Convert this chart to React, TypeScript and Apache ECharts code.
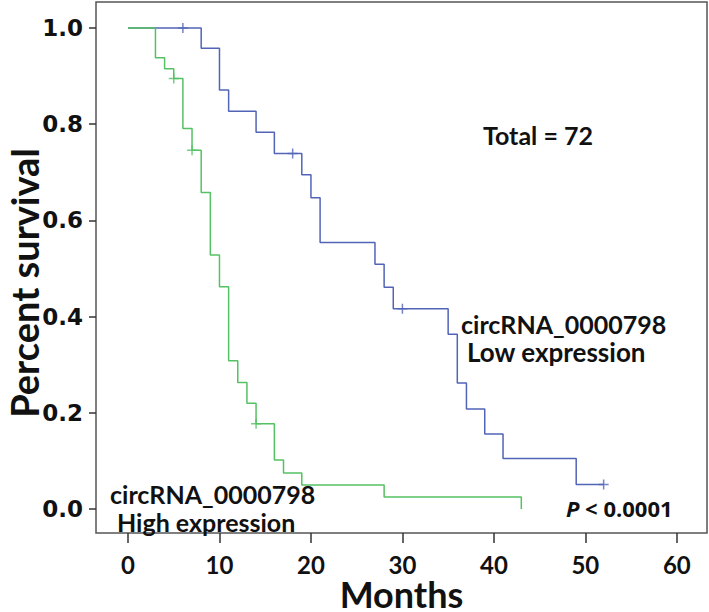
import React, { useEffect, useRef } from "react";
import * as echarts from "echarts";

// Kaplan-Meier step points (time in months, survival proportion)
const lowTimes = [0, 8, 10, 11, 14, 16, 19, 20, 21, 27, 28, 29, 35, 36, 37, 39, 41, 49, 52];
const lowSurv = [1, 0.958, 0.871, 0.827, 0.783, 0.739, 0.695, 0.647, 0.554, 0.509, 0.461, 0.416, 0.363, 0.262, 0.208, 0.156, 0.105, 0.051, 0.051];
const lowCensorTimes = [6, 18, 30, 52];
const lowCensorSurv = [1, 0.739, 0.416, 0.051];

const highTimes = [0, 3, 4, 5, 6, 7, 8, 9, 10, 11, 12, 13, 14, 16, 17, 19, 28, 43];
const highSurv = [1, 0.938, 0.915, 0.895, 0.791, 0.746, 0.658, 0.528, 0.462, 0.308, 0.263, 0.22, 0.177, 0.102, 0.075, 0.05, 0.025, 0];
const highCensorTimes = [5, 7, 14];
const highCensorSurv = [0.895, 0.746, 0.177];

const xTicks = [0, 10, 20, 30, 40, 50, 60];
const yTicks = [0, 0.2, 0.4, 0.6, 0.8, 1.0];

const BLUE = "#5264b8";
const GREEN = "#55c163";
const FONT = "Lato, 'Open Sans', sans-serif";
const PLUS = "path://M0,5L10,5M5,0L5,10";

export default function App() {
  const ref = useRef<HTMLDivElement>(null);
  useEffect(() => {
    if (!ref.current) return;
    const chart = echarts.init(ref.current, null, { renderer: "svg" });
    const zip = (a: number[], b: number[]) => a.map((v, i) => [v, b[i]]);
    const txt = (text: string, x: number, y: number, size = 25) => ({
      type: "text",
      x,
      y,
      style: { text, font: `bold ${size}px ${FONT}`, fill: "#111", verticalAlign: "middle", align: "left" },
    });
    chart.setOption({
      animation: false,
      backgroundColor: "#ffffff",
      grid: {
        left: 96,
        top: 2,
        right: 2,
        bottom: 79,
        containLabel: false,
        outerBoundsMode: "none",
        show: true,
        borderColor: "#555",
        borderWidth: 1.5,
        backgroundColor: "#fff",
      },
      xAxis: {
        type: "value",
        min: -3.5,
        max: 63.3,
        name: "Months",
        nameLocation: "middle",
        nameGap: 43,
        nameMoveOverlap: false,
        nameTextStyle: { fontFamily: FONT, fontWeight: "bold", fontSize: 36, lineHeight: 36, color: "#111" },
        axisLine: { show: false, onZero: false },
        splitLine: { show: false },
        axisTick: { show: true, customValues: xTicks, length: 10, lineStyle: { color: "#333", width: 1.5 } },
        axisLabel: {
          customValues: xTicks,
          margin: 19,
          fontFamily: FONT,
          fontWeight: "bold",
          fontSize: 24,
          lineHeight: 24,
          color: "#111",
        },
      },
      yAxis: {
        type: "value",
        min: -0.05,
        max: 1.054,
        axisLine: { show: false, onZero: false },
        splitLine: { show: false },
        axisTick: { show: true, customValues: yTicks, length: 7, lineStyle: { color: "#333", width: 1.5 } },
        axisLabel: {
          customValues: yTicks,
          margin: 13,
          fontFamily: "'DejaVu Sans', sans-serif",
          fontWeight: "bold",
          fontSize: 23,
          color: "#111",
          formatter: (v: number) => v.toFixed(1),
        },
      },
      series: [
        {
          name: "Low expression",
          type: "line",
          step: "end",
          data: zip(lowTimes, lowSurv),
          symbol: "none",
          lineStyle: { color: BLUE, width: 1.5 },
        },
        {
          name: "High expression",
          type: "line",
          step: "end",
          data: zip(highTimes, highSurv),
          symbol: "none",
          lineStyle: { color: GREEN, width: 1.5 },
        },
        {
          name: "Low censored",
          type: "scatter",
          data: zip(lowCensorTimes, lowCensorSurv),
          symbol: PLUS,
          symbolSize: 10,
          itemStyle: { color: "none", borderColor: BLUE, borderWidth: 1.5 },
        },
        {
          name: "High censored",
          type: "scatter",
          data: zip(highCensorTimes, highCensorSurv),
          symbol: PLUS,
          symbolSize: 10,
          itemStyle: { color: "none", borderColor: GREEN, borderWidth: 1.5 },
        },
      ],
      graphic: [
        {
          type: "text",
          x: 24,
          y: 283,
          rotation: Math.PI / 2,
          style: {
            text: "Percent survival",
            font: `bold 38px ${FONT}`,
            fill: "#111",
            align: "center",
            verticalAlign: "middle",
          },
        },
        txt("Total = 72", 483, 135, 25),
        txt("circRNA_0000798", 461, 324),
        txt("Low expression", 467, 352, 26),
        txt("circRNA_0000798", 110, 494),
        txt("High expression", 117, 522),
        {
          type: "text",
          x: 566,
          y: 508,
          style: {
            text: "{i|P} < 0.0001",
            font: `bold 22px 'Open Sans', sans-serif`,
            fill: "#111",
            verticalAlign: "middle",
            align: "left",
            rich: { i: { fontStyle: "italic", fontWeight: "bold", fontSize: 22, fontFamily: "'Open Sans', sans-serif", fill: "#111" } },
          },
        },
      ],
    });
    return () => chart.dispose();
  }, []);
  return <div ref={ref} style={{ width: 709, height: 612, position: "absolute", left: 0, top: 0 }} />;
}
